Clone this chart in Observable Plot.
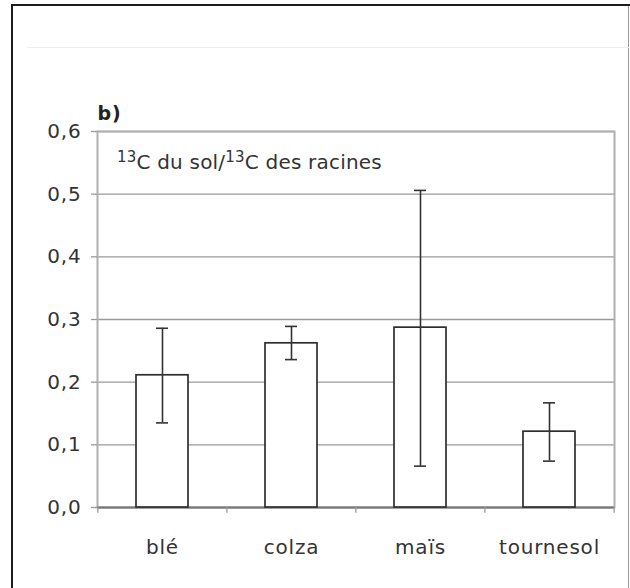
<!DOCTYPE html>
<html><head><meta charset="utf-8">
<script src="https://cdn.jsdelivr.net/npm/d3@7"></script>
<script src="https://cdn.jsdelivr.net/npm/@observablehq/plot@0.6"></script>
<style>
html,body{margin:0;padding:0;background:#fff}
body{width:630px;height:588px;overflow:hidden;position:relative;font-family:"DejaVu Sans",Verdana,sans-serif}
#chart{position:absolute;left:0;top:0}
#outer{position:absolute;left:11px;top:4px;width:660px;height:620px;border:2px solid #1c1c1c;box-sizing:border-box;pointer-events:none}
#rightline{position:absolute;left:628px;top:6px;width:0;height:600px;border-left:1.5px solid #9a9a9a}
#topline{position:absolute;left:27px;top:47px;width:610px;height:0;border-top:1px solid #eeeeee}
</style>
</head><body>
<div id="chart"></div>
<div id="outer"></div>
<div id="rightline"></div>
<div id="topline"></div>
<script>
const crops = ["blé", "colza", "maïs", "tournesol"];
const means = [0.211, 0.262, 0.287, 0.121];
const lows  = [0.135, 0.236, 0.066, 0.074];
const highs = [0.286, 0.289, 0.506, 0.167];
const yTicks = [0, 0.1, 0.2, 0.3, 0.4, 0.5, 0.6];
const panelLabel = "b)";

const table = crops.map((c, i) => ({crop: c, mean: means[i], lo: lows[i], hi: highs[i]}));

const W = 630, H = 588, mL = 97, mR = 16, mT = 131, mB = 81;
const step = (W - mL - mR) / crops.length;
const font = "DejaVu Sans, Verdana, sans-serif";

const chart = Plot.plot({
  width: W, height: H,
  marginLeft: mL, marginRight: mR, marginTop: mT, marginBottom: mB,
  style: {fontFamily: font, background: "transparent", color: "#333", letterSpacing: "0.8px"},
  x: {domain: crops, paddingInner: 0.6, paddingOuter: 0.3, axis: null, label: null},
  y: {domain: [0, 0.6], axis: null, label: null},
  marks: [
    Plot.gridY(yTicks, {stroke: "#9a9a9a", strokeOpacity: 1, strokeWidth: 1.3}),
    Plot.frame({stroke: "#b0b0b0", strokeWidth: 2}),
    Plot.ruleY([0], {stroke: "#777", strokeWidth: 2}),
    Plot.axisY({ticks: yTicks, tickFormat: d => d.toFixed(1).replace(".", ","), tickSize: 6, tickPadding: 10,
      fontSize: 20, stroke: "#9a9a9a", strokeWidth: 1.3, fill: "#333", label: null}),
    Plot.ruleX(crops, {x: d => d, y1: 0, y2: -0.009, dx: -step / 2, stroke: "#9a9a9a", strokeWidth: 1.3}),
    Plot.ruleX(crops.slice(-1), {x: d => d, y1: 0, y2: -0.009, dx: step / 2, stroke: "#9a9a9a", strokeWidth: 1.3}),
    Plot.axisX({tickSize: 0, tickPadding: 32, fontSize: 20, fill: "#333", label: null}),
    Plot.barY(table, {x: "crop", y: "mean", fill: "white", stroke: "#2e2e2e", strokeWidth: 1.7}),
    Plot.ruleX(table, {x: "crop", y1: "lo", y2: "hi", stroke: "#333", strokeWidth: 1.6}),
    Plot.tickY(table, {x: "crop", y: "lo", insetLeft: 20, insetRight: 20, stroke: "#333", strokeWidth: 1.6}),
    Plot.tickY(table, {x: "crop", y: "hi", insetLeft: 20, insetRight: 20, stroke: "#333", strokeWidth: 1.6}),
    Plot.text([panelLabel], {frameAnchor: "top-left", text: d => d, dx: 0, dy: -12, fontSize: 19, fontWeight: "bold", fill: "#222", textAnchor: "start", lineAnchor: "bottom"})
  ]
});
document.getElementById("chart").appendChild(chart);

// annotation with superscripts
const svg = d3.select(chart);
const t = svg.append("text").attr("x", 117).attr("y", 169)
  .attr("text-anchor", "start").style("letter-spacing", "0.2px")
  .attr("font-family", font).attr("font-size", 20).attr("fill", "#333");
t.append("tspan").attr("font-size", 15).attr("dy", -7).text("13");
t.append("tspan").attr("dy", 7).text("C du sol/");
t.append("tspan").attr("font-size", 15).attr("dy", -7).text("13");
t.append("tspan").attr("dy", 7).text("C des racines");
</script>
</body></html>
